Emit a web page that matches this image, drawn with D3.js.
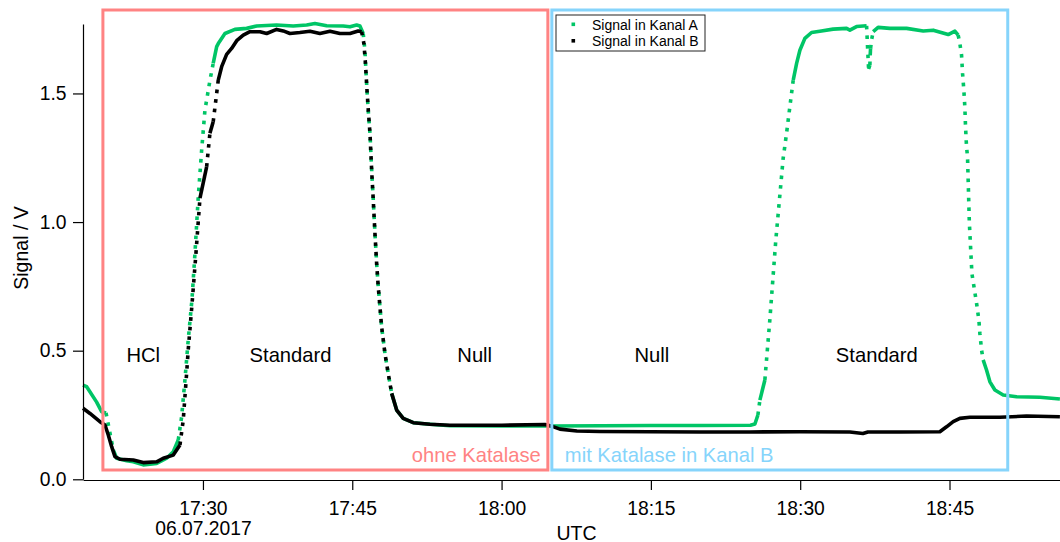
<!DOCTYPE html>
<html>
<head>
<meta charset="utf-8">
<script src="https://d3js.org/d3.v7.min.js"></script>
<style>
body { margin: 0; background: #fff; }
svg { display: block; font-family: "Liberation Sans", Arial, sans-serif; }
</style>
</head>
<body>
<div id="chart"></div>
<script>
// minutes after 17:00 UTC, signal in V
var minA = [17.95, 18.32, 19.32, 19.82, 20.26, 20.61, 20.99, 21.33, 22.34, 23.0, 24.0, 25.35, 26.35, 27.02, 27.52, 27.86,
    28.19, 28.52, 28.9, 29.2, 29.53, 29.87, 30.2, 30.7, 31.03, 31.38, 31.54, 32.21, 33.21, 34.39, 35.39, 37.4, 39.07,
    40.42, 41.25, 42.43, 44.09, 44.77, 45.44, 45.77, 46.1, 46.27, 46.44, 46.6, 46.78, 46.95, 47.11, 47.28, 47.45, 47.61,
    47.78, 47.95, 48.28, 48.61, 48.96, 49.46, 50.12, 51.13, 52.8, 54.81, 60, 65, 70, 75, 80, 85, 85.45, 85.75, 85.95,
    86.45, 86.95, 87.55, 88.29, 88.63, 88.96, 89.3, 89.64, 89.97, 90.47, 91.14, 91.97, 93.31, 94.66, 94.99, 95.66, 96.67,
    96.87, 97.0, 97.03, 97.07, 97.17, 97.33, 97.83, 99.01, 100.69, 102.36, 103.36, 104.87, 105.54, 105.87, 106.04, 106.21,
    106.31, 106.44, 106.54, 106.61, 106.71, 106.81, 106.99, 107.25, 107.72, 107.95, 108.05, 108.22, 108.38, 108.72,
    109.06, 109.56, 110.39, 111.74, 114.08, 116.09];
var sigA = [0.366, 0.36, 0.30, 0.263, 0.258, 0.19, 0.114, 0.082, 0.072, 0.068, 0.056, 0.062, 0.082, 0.107, 0.153, 0.243,
    0.386, 0.541, 0.70, 0.88, 1.098, 1.28, 1.435, 1.55, 1.617, 1.682, 1.694, 1.733, 1.749, 1.753, 1.762, 1.766, 1.762,
    1.766, 1.772, 1.763, 1.762, 1.759, 1.766, 1.762, 1.733, 1.668, 1.539, 1.435, 1.345, 1.202, 1.086, 0.956, 0.839, 0.749,
    0.671, 0.593, 0.49, 0.412, 0.334, 0.269, 0.237, 0.22, 0.214, 0.208, 0.207, 0.207, 0.208, 0.209, 0.209, 0.21, 0.215, 0.25, 0.308,
    0.386, 0.62, 0.93, 1.248, 1.345, 1.448, 1.552, 1.617, 1.668, 1.714, 1.737, 1.742, 1.75, 1.753, 1.746, 1.76, 1.763,
    1.595, 1.61, 1.649, 1.675, 1.708, 1.74, 1.757, 1.753, 1.753, 1.743, 1.746, 1.729, 1.742, 1.727, 1.694, 1.649,
    1.578, 1.513, 1.448, 1.37, 1.293, 1.254, 1.0, 0.80, 0.684, 0.619, 0.567, 0.503, 0.464, 0.425,
    0.379, 0.347, 0.328, 0.321, 0.319, 0.312];
var minB = [17.95, 18.65, 19.65, 20.16, 20.49, 20.83, 21.16, 21.66, 23.0, 24.0, 25.35, 26.01, 27.02, 27.69, 28.02, 28.19,
    28.36, 28.52, 28.9, 29.3, 29.7, 30.37, 30.7, 31.03, 31.54, 31.88, 32.38, 32.88, 33.39, 34.05, 34.72, 35.73, 36.4,
    37.4, 38.07, 38.74, 39.74, 40.75, 41.75, 42.76, 43.76, 44.77, 45.6, 45.94, 46.17, 46.32, 46.47, 46.62, 46.78, 46.95,
    47.11, 47.28, 47.45, 47.61, 47.78, 47.95, 48.28, 48.61, 48.96, 49.46, 50.12, 51.13, 52.8, 54.81, 60.03, 64.35,
    65.16, 65.86, 67.57, 69.88, 74.9, 79.92, 84.95, 89.97, 94.99, 96.3, 96.8, 100.0, 104.03, 104.7, 105.37, 106.04,
    107.05, 110.06, 112.74, 116.09];
var sigB = [0.276, 0.256, 0.224, 0.211, 0.172, 0.127, 0.088, 0.078, 0.075, 0.065, 0.068, 0.082, 0.094, 0.133, 0.23, 0.321,
    0.412, 0.503, 0.68, 0.88, 1.093, 1.215, 1.345, 1.39, 1.552, 1.604, 1.652, 1.675, 1.705, 1.727, 1.74, 1.74, 1.733,
    1.749, 1.743, 1.733, 1.737, 1.742, 1.733, 1.742, 1.733, 1.733, 1.743, 1.74, 1.694, 1.62, 1.52, 1.43, 1.345, 1.2,
    1.086, 0.956, 0.839, 0.749, 0.671, 0.593, 0.49, 0.412, 0.334, 0.269, 0.237, 0.22, 0.214, 0.21, 0.21, 0.213,
    0.205, 0.195, 0.188, 0.186, 0.185, 0.184, 0.184, 0.185, 0.184, 0.178, 0.184, 0.184, 0.185, 0.204, 0.224, 0.237,
    0.241, 0.241, 0.246, 0.243];
var yTicks = [0, 0.5, 1.0, 1.5];
var seriesNames = ["Signal in Kanal A", "Signal in Kanal B"];
var seriesColors = ["#00c566", "#000000"];
var phaseNames = ["HCl", "Standard", "Null", "Null", "Standard"];
var phaseMin = [24.0, 38.8, 57.3, 75.1, 97.7];
var boxNames = ["ohne Katalase", "mit Katalase in Kanal B"];
var boxStart = [19.95, 65.05];
var boxEnd = [64.65, 110.85];
var boxColors = ["#ff8383", "#86d4fb"];
var dateLabel = "06.07.2017";

var svgWidth = 1060;
var svgHeight = 542;
var t0 = new Date(2017, 6, 6, 17, 0, 0);
function toDate(m) {
    return new Date(t0.getTime() + m * 60000);
}

var svg = d3.select("#chart").append("svg")
    .attr("width", svgWidth)
    .attr("height", svgHeight);

var x = d3.scaleTime().domain([toDate(17.95), toDate(116.1)]).range([83, 1060]);
var y = d3.scaleLinear().domain([0, 1.77]).range([479.3, 24]);

var series = [
    d3.zip(minA, sigA),
    d3.zip(minB, sigB)
];

// data traces: steep parts look dotted like in the original (sampled markers)
var traces = svg.append("g");
series.forEach(function (pts, i) {
    var px = pts.map(function (p) { return [x(toDate(p[0])), y(p[1])]; });
    var groups = [];
    var cur = null;
    for (var k = 1; k < px.length; k++) {
        var dx = px[k][0] - px[k - 1][0];
        var dy = px[k][1] - px[k - 1][1];
        var steep = Math.abs(dy) > 5 * Math.abs(dx) && Math.abs(dy) > 8;
        if (!cur || cur.steep !== steep) {
            cur = {steep: steep, pts: [px[k - 1]]};
            groups.push(cur);
        }
        cur.pts.push(px[k]);
    }
    groups.forEach(function (g) {
        traces.append("path")
            .attr("d", d3.line()(g.pts))
            .attr("fill", "none")
            .attr("stroke", seriesColors[i])
            .attr("stroke-width", 3.6)
            .attr("stroke-linejoin", "round")
            .attr("stroke-dasharray", g.steep ? "3.6,6" : null);
    });
});

// axes
var bottomAxis = d3.axisBottom(x)
    .ticks(d3.timeMinute.every(15))
    .tickFormat(d3.timeFormat("%H:%M"))
    .tickSize(10)
    .tickSizeOuter(0)
    .tickPadding(11);
var leftAxis = d3.axisLeft(y)
    .tickValues(yTicks)
    .tickFormat(d3.format(".1f"))
    .tickSize(10)
    .tickSizeOuter(0)
    .tickPadding(6.5);

var xg = svg.append("g")
    .attr("transform", "translate(0,480)")
    .call(bottomAxis);
var yg = svg.append("g")
    .attr("transform", "translate(83,0)")
    .call(leftAxis);
[xg, yg].forEach(function (g) {
    g.selectAll("text").attr("font-size", 19.3).attr("fill", "#000").attr("font-family", null);
    g.selectAll("line").attr("stroke", "#000").attr("stroke-width", 1.2);
    g.select(".domain").attr("stroke", "#000").attr("stroke-width", 1.2);
});
xg.selectAll(".tick text")
    .filter(function (d) { return d.getHours() === 17 && d.getMinutes() === 30; })
    .append("tspan")
    .attr("x", 0)
    .attr("dy", "1.07em")
    .text(dateLabel);

svg.append("text")
    .attr("transform", "translate(27.5,248) rotate(-90)")
    .attr("text-anchor", "middle")
    .attr("font-size", 19.5)
    .text("Signal / V");
svg.append("text")
    .attr("x", 576.5)
    .attr("y", 539.5)
    .attr("text-anchor", "middle")
    .attr("font-size", 19.5)
    .text("UTC");

// phase labels
svg.selectAll(".phase")
    .data(phaseNames)
    .enter()
    .append("text")
    .attr("class", "phase")
    .attr("x", function (d, i) { return x(toDate(phaseMin[i])); })
    .attr("y", 362)
    .attr("text-anchor", "middle")
    .attr("font-size", 20.2)
    .text(function (d) { return d; });

// annotation boxes
boxNames.forEach(function (name, i) {
    var x0 = x(toDate(boxStart[i]));
    var x1 = x(toDate(boxEnd[i]));
    svg.append("rect")
        .attr("x", x0)
        .attr("y", 10)
        .attr("width", x1 - x0)
        .attr("height", 460)
        .attr("fill", "none")
        .attr("stroke", boxColors[i])
        .attr("stroke-width", 3);
    svg.append("text")
        .attr("x", i === 0 ? x1 - 7 : x0 + 13)
        .attr("y", 462)
        .attr("text-anchor", i === 0 ? "end" : "start")
        .attr("font-size", 20.2)
        .attr("fill", boxColors[i])
        .text(name);
});

// legend
var legend = svg.append("g").attr("transform", "translate(556,15)");
legend.append("rect")
    .attr("width", 149)
    .attr("height", 36)
    .attr("fill", "#fff")
    .attr("stroke", "#222")
    .attr("stroke-width", 1);
seriesNames.forEach(function (name, i) {
    legend.append("rect")
        .attr("x", 15.5)
        .attr("y", 7.5 + i * 16.5)
        .attr("width", 3.6)
        .attr("height", 3.6)
        .attr("fill", seriesColors[i]);
    legend.append("text")
        .attr("x", 36)
        .attr("y", 14.5 + i * 16)
        .attr("font-size", 14)
        .text(name);
});
</script>
</body>
</html>
